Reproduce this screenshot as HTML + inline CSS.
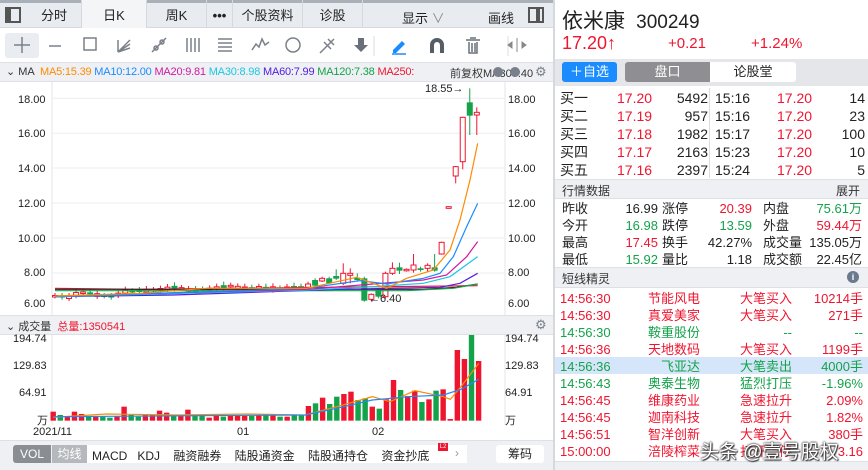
<!DOCTYPE html>
<html><head><meta charset="utf-8">
<style>
*{margin:0;padding:0;box-sizing:border-box}
body{width:868px;height:470px;overflow:hidden;background:#fff;font-family:"Liberation Sans","Noto Sans CJK SC",sans-serif;position:relative;color:#222}
.a{position:absolute;white-space:nowrap}
.r{color:#f0152f}.g{color:#14a24a}
.tab{position:absolute;top:0;height:28px;line-height:32px;font-size:13px;text-align:center;border-right:1px solid #d5d8dd}
</style></head><body>
<div class="a" style="left:0;top:0;width:555px;height:28px;background:#e8ebef;border-bottom:1px solid #d5d8dd"></div>
<div class="a" style="left:0;top:0;width:555px;height:3px;background:#aab0b8"></div>
<div class="a" style="left:5px;top:7px;width:16px;height:16px;border:2px solid #555"></div><div class="a" style="left:7px;top:9px;width:4px;height:12px;background:#555"></div>
<div class="tab" style="left:27px;width:55px">分时</div>
<div class="tab" style="left:82px;width:65px;background:#f3f5f7">日K</div>
<div class="tab" style="left:147px;width:60px">周K</div>
<div class="tab" style="left:207px;width:26px;font-weight:bold">•••</div>
<div class="tab" style="left:233px;width:70px">个股资料</div>
<div class="tab" style="left:303px;width:60px">诊股</div>
<div class="a" style="left:402px;top:8px;font-size:13px">显示 <span style="color:#888">∨</span></div>
<div class="a" style="left:488px;top:8px;font-size:13px">画线</div>
<div class="a" style="left:528px;top:7px;width:16px;height:16px;border:2px solid #555"></div><div class="a" style="left:536px;top:9px;width:4px;height:12px;background:#555"></div>
<div class="a" style="left:5px;top:33px;width:34px;height:25px;background:#e9edf2;border-radius:3px"></div>
<svg class="a" style="left:0;top:28px" width="555" height="34">
<g stroke="#7a808a" stroke-width="1.5" fill="none">
<path d="M22 9v16M14 17h16"/>
<path d="M49 18h12"/><rect x="84" y="10" width="12" height="12"/>
<path d="M118 24l12-12M118 24l12-8M118 24l12-4M118 24v-12"/>
<path d="M152 24l14-14"/><circle cx="156" cy="20" r="2"/><circle cx="162" cy="14" r="2"/>
<path d="M187 10v14M191 10v14M195 10v14M199 10v14"/>
<path d="M218 11h14M218 15h14M218 19h14M218 23h14"/>
<path d="M252 22l4-6 3 3 3-8 3 6 4-3"/>
<circle cx="293" cy="17" r="7"/>
<path d="M320 25l14-14M324 14l7 7M328 11l6 6"/>
</g>
<path d="M358 10h6v7h4l-7 7-7-7h4z" fill="#6a707a"/>
<path d="M374 8v20M508 8v20" stroke="#ddd"/>
<path d="M393 22l9-9 3 3-9 9h-3z" fill="#1a8cff"/><path d="M392 26h14" stroke="#1a8cff" stroke-width="1.5"/>
<path d="M430 25v-8a7 7 0 0 1 14 0v8h-4v-8a3 3 0 0 0-6 0v8z" fill="#555d66"/>
<path d="M466 12h14M469 14v11h8v-11M472 15v9M475 15v9M470 10h6" stroke="#6a707a" stroke-width="1.5" fill="none"/>
<path d="M517 10v14M508 17l4-3v6zM526 17l-4-3v6z" stroke="#888" fill="#888"/>
</svg>
<div class="a" style="left:0;top:62px;width:555px;height:20px;background:#eef0f3;border-top:1px solid #dde0e4;border-bottom:1px solid #dde0e4"></div>
<div class="a" style="left:6px;top:65px;font-size:11px;color:#333">⌄ MA</div>
<div class="a" style="left:40px;top:66px;font-size:11px;letter-spacing:-0.2px"><span style="color:#ff8a00">MA5:15.39</span> <span style="color:#1a8cff">MA10:12.00</span> <span style="color:#d01aa0">MA20:9.81</span> <span style="color:#1ac8e0">MA30:8.98</span> <span style="color:#5020e0">MA60:7.99</span> <span style="color:#14a24a">MA120:7.38</span> <span class="r">MA250:</span></div>
<div class="a" style="left:450px;top:65px;font-size:11px;color:#333">前复权MA300:40</div>
<div class="a" style="left:493px;top:67px;width:10px;height:10px;border-radius:5px;background:#7a808a"></div>
<div class="a" style="left:510px;top:67px;width:10px;height:10px;border-radius:5px;background:#7a808a"></div>
<div class="a" style="left:535px;top:64px;font-size:13px;color:#7a808a">⚙</div>
<svg class="a" id="pc" style="left:0;top:82px" width="555" height="233"></svg>
<div class="a" style="left:18px;top:94px;font-size:11px">18.00</div><div class="a" style="left:508px;top:94px;font-size:11px">18.00</div>
<div class="a" style="left:18px;top:128px;font-size:11px">16.00</div><div class="a" style="left:508px;top:128px;font-size:11px">16.00</div>
<div class="a" style="left:18px;top:163px;font-size:11px">14.00</div><div class="a" style="left:508px;top:163px;font-size:11px">14.00</div>
<div class="a" style="left:18px;top:198px;font-size:11px">12.00</div><div class="a" style="left:508px;top:198px;font-size:11px">12.00</div>
<div class="a" style="left:18px;top:233px;font-size:11px">10.00</div><div class="a" style="left:508px;top:233px;font-size:11px">10.00</div>
<div class="a" style="left:24px;top:267px;font-size:11px">8.00</div><div class="a" style="left:508px;top:267px;font-size:11px">8.00</div>
<div class="a" style="left:24px;top:298px;font-size:11px">6.00</div><div class="a" style="left:508px;top:298px;font-size:11px">6.00</div>
<div class="a" style="left:425px;top:83px;font-size:11px">18.55→</div>
<div class="a" style="left:369px;top:293px;font-size:11px">←6.40</div>
<div class="a" style="left:0;top:315px;width:555px;height:20px;background:#eef0f3;border-top:1px solid #dde0e4;border-bottom:1px solid #dde0e4"></div>
<div class="a" style="left:6px;top:318px;font-size:11px;color:#333">⌄ 成交量 &nbsp;<span class="r">总量:1350541</span></div>
<div class="a" style="left:535px;top:317px;font-size:13px;color:#7a808a">⚙</div>
<svg class="a" id="vc" style="left:0;top:335px" width="555" height="90"></svg>
<div class="a" style="left:13px;top:333px;font-size:11px">194.74</div><div class="a" style="left:505px;top:333px;font-size:11px">194.74</div>
<div class="a" style="left:13px;top:360px;font-size:11px">129.83</div><div class="a" style="left:505px;top:360px;font-size:11px">129.83</div>
<div class="a" style="left:19px;top:387px;font-size:11px">64.91</div><div class="a" style="left:505px;top:387px;font-size:11px">64.91</div>
<div class="a" style="left:37px;top:412px;font-size:11px">万</div><div class="a" style="left:505px;top:412px;font-size:11px">万</div>
<div class="a" style="left:33px;top:426px;font-size:11px">2021/11</div>
<div class="a" style="left:237px;top:426px;font-size:11px">01</div>
<div class="a" style="left:372px;top:426px;font-size:11px">02</div>
<div class="a" style="left:0;top:440px;width:555px;height:30px;background:#eef0f3;border-top:1px solid #dde0e4"></div>
<div class="a" style="left:13px;top:445px;width:38px;height:18px;background:#8a8d92;color:#fff;font-size:12px;text-align:center;line-height:18px;border-radius:3px 0 0 3px">VOL</div>
<div class="a" style="left:52px;top:445px;width:35px;height:18px;background:#b5b8bc;color:#fff;font-size:12px;text-align:center;line-height:18px">均线</div>
<div class="a" style="left:87px;top:445px;width:380px;height:18px;background:#fff"></div>
<div class="a" style="left:92px;top:447px;font-size:12px">MACD &nbsp; KDJ &nbsp;&nbsp; 融资融券 &nbsp;&nbsp; 陆股通资金 &nbsp;&nbsp; 陆股通持仓 &nbsp;&nbsp; 资金抄底</div>
<div class="a" style="left:438px;top:443px;width:10px;height:8px;background:#f0152f;color:#fff;font-size:6px;line-height:8px;text-align:center">L2</div>
<div class="a" style="left:455px;top:446px;font-size:12px;color:#999">›</div>
<div class="a" style="left:496px;top:445px;width:48px;height:18px;background:#fff;font-size:12px;text-align:center;line-height:18px;border-radius:3px">筹码</div>
<div class="a" style="left:553px;top:0;width:2px;height:470px;background:#d5d8dd"></div>
<div class="a" style="left:562px;top:5px;font-size:21px;color:#222">依米康 <span style="font-size:19px">&nbsp;300249</span></div>
<div class="a r" style="left:562px;top:33px;font-size:18px">17.20↑</div>
<div class="a r" style="left:668px;top:35px;font-size:15px">+0.21</div>
<div class="a r" style="left:751px;top:35px;font-size:15px">+1.24%</div>
<div class="a" style="left:555px;top:59px;width:313px;height:27px;background:#e4e6ea"></div>
<div class="a" style="left:562px;top:62px;width:55px;height:20px;background:#1a8cff;color:#fff;font-size:13px;text-align:center;line-height:20px;border-radius:3px">＋自选</div>
<div class="a" style="left:625px;top:62px;width:85px;height:20px;background:#8e8e93;color:#fff;font-size:13px;text-align:center;line-height:20px;border-radius:3px 0 0 3px">盘口</div>
<div class="a" style="left:710px;top:62px;width:86px;height:20px;background:#fff;font-size:13px;text-align:center;line-height:20px;border-radius:0 3px 3px 0">论股堂</div>
<div class="a" style="left:709px;top:88px;width:1px;height:90px;background:#ddd"></div>
<div class="a" style="left:560px;top:89px;font-size:14px;line-height:18px">买一<br>买二<br>买三<br>买四<br>买五</div>
<div class="a r" style="left:617px;top:89px;font-size:14px;line-height:18px">17.20<br>17.19<br>17.18<br>17.17<br>17.16</div>
<div class="a" style="left:656px;top:89px;width:52px;font-size:14px;line-height:18px;text-align:right">5492<br>957<br>1982<br>2163<br>2397</div>
<div class="a" style="left:715px;top:89px;font-size:14px;line-height:18px">15:16<br>15:16<br>15:17<br>15:23<br>15:24</div>
<div class="a r" style="left:777px;top:89px;font-size:14px;line-height:18px">17.20<br>17.20<br>17.20<br>17.20<br>17.20</div>
<div class="a" style="left:820px;top:89px;width:45px;font-size:14px;line-height:18px;text-align:right">14<br>23<br>100<br>10<br>5</div>
<div class="a" style="left:555px;top:179px;width:313px;height:20px;background:#eef0f3;border-top:1px solid #dde0e4;border-bottom:1px solid #dde0e4"></div>
<div class="a" style="left:562px;top:182px;font-size:12px;color:#333">行情数据</div>
<div class="a" style="left:836px;top:182px;font-size:12px;color:#333">展开</div>
<div class="a" style="left:562px;top:200px;font-size:13px;line-height:17px">昨收<br>今开<br>最高<br>最低</div>
<div class="a" style="left:598px;top:200px;width:60px;font-size:13px;line-height:17px;text-align:right">16.99<br><span class="g">16.98</span><br><span class="r">17.45</span><br><span class="g">15.92</span></div>
<div class="a" style="left:662px;top:200px;font-size:13px;line-height:17px">涨停<br>跌停<br>换手<br>量比</div>
<div class="a" style="left:688px;top:200px;width:64px;font-size:13px;line-height:17px;text-align:right"><span class="r">20.39</span><br><span class="g">13.59</span><br>42.27%<br>1.18</div>
<div class="a" style="left:763px;top:200px;font-size:13px;line-height:17px">内盘<br>外盘<br>成交量<br>成交额</div>
<div class="a" style="left:796px;top:200px;width:66px;font-size:13px;line-height:17px;text-align:right"><span class="g">75.61万</span><br><span class="r">59.44万</span><br>135.05万<br>22.45亿</div>
<div class="a" style="left:555px;top:267px;width:313px;height:21px;background:#eef0f3;border-top:1px solid #dde0e4;border-bottom:1px solid #dde0e4"></div>
<div class="a" style="left:562px;top:270px;font-size:12px;color:#333">短线精灵</div>
<div class="a" style="left:847px;top:271px;width:12px;height:12px;border-radius:6px;background:#6a7890;color:#fff;font-size:9px;text-align:center;line-height:12px;font-weight:bold">i</div>
<div class="a" style="left:555px;top:357px;width:313px;height:17px;background:#d6e6fa"></div>
<div class="a" style="left:560px;top:290px;font-size:13px;line-height:17px"><span class="r">14:56:30</span><br><span class="r">14:56:30</span><br><span class="g">14:56:30</span><br><span class="r">14:56:36</span><br><span class="g">14:56:36</span><br><span class="g">14:56:43</span><br><span class="r">14:56:45</span><br><span class="r">14:56:45</span><br><span class="r">14:56:51</span><br><span class="r">15:00:00</span></div>
<div class="a" style="left:640px;top:290px;width:60px;font-size:13px;line-height:17px;text-align:right"><span class="r">节能风电</span><br><span class="r">真爱美家</span><br><span class="g">鞍重股份</span><br><span class="r">天地数码</span><br><span class="g">飞亚达</span><br><span class="g">奥泰生物</span><br><span class="r">维康药业</span><br><span class="r">迦南科技</span><br><span class="r">智洋创新</span><br><span class="r">涪陵榨菜</span></div>
<div class="a" style="left:732px;top:290px;width:60px;font-size:13px;line-height:17px;text-align:right"><span class="r">大笔买入</span><br><span class="r">大笔买入</span><br><span class="g">--</span><br><span class="r">大笔买入</span><br><span class="g">大笔卖出</span><br><span class="g">猛烈打压</span><br><span class="r">急速拉升</span><br><span class="r">急速拉升</span><br><span class="r">大笔买入</span><br><span class="r">打开涨停</span></div>
<div class="a" style="left:800px;top:290px;width:63px;font-size:13px;line-height:17px;text-align:right"><span class="r">10214手</span><br><span class="r">271手</span><br><span class="g">--</span><br><span class="r">1199手</span><br><span class="g">4000手</span><br><span class="g">-1.96%</span><br><span class="r">2.09%</span><br><span class="r">1.82%</span><br><span class="r">380手</span><br><span class="r">3.16</span></div>
<div class="a" style="left:555px;top:461px;width:313px;height:9px;background:#eef0f3;border-top:1px solid #dde0e4"></div>
<div class="a" style="left:700px;top:437px;font-size:19px;color:#fff;text-shadow:0 0 2px #333,0 0 2px #333,1px 1px 1px #333">头条 @壹号股权</div>
<script>
(function(){
var NS="http://www.w3.org/2000/svg";
function el(p,t,a){var e=document.createElementNS(NS,t);for(var k in a)e.setAttribute(k,a[k]);p.appendChild(e);return e;}
var pc=document.getElementById('pc'),vc=document.getElementById('vc');
el(pc,'line',{x1:52,y1:0,x2:52,y2:233,stroke:'#e3e6ea'});
el(pc,'line',{x1:505,y1:0,x2:505,y2:233,stroke:'#e3e6ea'});
[16.3,51.3,86,121,156,191].forEach(function(y){el(pc,'line',{x1:52,y1:y,x2:505,y2:y,stroke:'#eceef1'});});
el(vc,'line',{x1:52,y1:0,x2:52,y2:90,stroke:'#e3e6ea'});
el(vc,'line',{x1:505,y1:0,x2:505,y2:90,stroke:'#e3e6ea'});
function Y(zy){return zy/3-2;}
function X(i){return 55+7.03*i;}
var c=[];
var base=[648,650,652,642,638,640,645,648,650,643,635,635,633,632,630,628,625,622,625,630,632,628,627,624,620,618,622,625,623,622,624,625,626,624,622,620];
for(var i=0;i<36;i++){var b=base[i],d=(i*37%7)+3;c.push([b+d/2,b-d/2,b-d-6,b+d+4]);}
var tail=[[622,612,605,628],[617,600,595,620],[603,595,590,606],[595,610,590,612],[596,588,568,600],[610,580,550,615],[586,580,565,610],[593,600,580,605],[595,662,590,665],[658,643,640,665],[630,650,625,655],[650,580,575,655],[580,565,547,585],[562,572,548,582],[572,568,565,575],[570,555,522,578],[565,570,560,575],[565,556,550,575],[562,572,522,575],[522,487,485,524],[385,380,380,386],[288,260,258,310],[245,112,110,268],[67,107,25,165],[105,97,82,165]];
c=c.concat(tail);
var vcol=[1,0,1,1,1,0,1,0,0,1,1,0,0,1,1,1,1,0,1,1,0,0,1,1,0,1,1,1,0,1,0,1,0,1,0,0,1,0,1,0,0,1,1,0,0,1,0,1,1,0,1,1,0,1,0,1,1,1,1,0,1];
var vt=[335,345,350,335,342,350,350,350,353,348,320,345,350,345,345,332,338,345,347,329,345,345,353,345,350,348,348,348,348,345,342,342,350,350,345,345,318,310,293,312,290,282,275,300,295,320,326,298,240,270,288,272,306,298,272,268,357,150,177,103,183];
for(var i=0;i<61;i++){
 var o=c[i][0],cl=c[i][1],h=c[i][2],l=c[i][3],red=vcol[i]==1,col=red?'#f0152f':'#14a24a',x=X(i);
 el(pc,'line',{x1:x,y1:Y(h),x2:x,y2:Y(l),stroke:col});
 var t=Math.min(o,cl),bh=Math.max(Math.abs(o-cl)/3,1.5);
 if(red)el(pc,'rect',{x:x-2.5,y:Y(t),width:5,height:bh,fill:'#fff',stroke:col,'stroke-width':1});
 else el(pc,'rect',{x:x-3,y:Y(t),width:6,height:bh,fill:col});
 var bx=53.2+7.09*i,tp=vt[i]/3-35,bt=362/3-35;
 el(vc,'rect',{x:bx-2.7,y:tp,width:5.4,height:bt-tp,fill:col});
}
function line(p,pts,col,sx,sy){var s=pts.map(function(q){return (sx(q[0]))+','+(sy(q[1]));}).join(' ');el(p,'polyline',{points:s,fill:'none',stroke:col,'stroke-width':1.2});}
var zx=function(v){return 40+v/3;};
line(pc,[[45,625],[300,628],[1313,617]],'#f0152f',zx,Y);
line(pc,[[45,628],[1150,628],[1250,622],[1313,612]],'#222',zx,Y);
line(pc,[[45,632],[1100,632],[1240,625],[1313,612]],'#14a24a',zx,Y);
line(pc,[[45,650],[400,645],[900,628],[1200,622],[1260,610],[1313,580]],'#5020e0',zx,Y);
line(pc,[[45,650],[800,630],[1000,620],[1150,610],[1230,590],[1313,530]],'#1ac8e0',zx,Y);
line(pc,[[45,648],[800,628],[1000,612],[1150,600],[1220,585],[1280,530],[1313,485]],'#d01aa0',zx,Y);
line(pc,[[45,650],[800,625],[960,602],[1040,612],[1150,595],[1200,580],[1240,530],[1280,440],[1313,370]],'#1a8cff',zx,Y);
line(pc,[[45,648],[300,640],[500,625],[800,625],[950,592],[1040,625],[1100,595],[1180,570],[1230,510],[1260,420],[1290,300],[1313,190]],'#ff8a00',zx,Y);
var vxf=function(v){return v/2.82;},vyf=function(v){return v/3-35;};
line(vc,[[150,352],[300,342],[500,345],[700,342],[860,345],[950,320],[1050,290],[1100,305],[1170,272],[1250,290],[1270,298],[1300,260],[1350,190]],'#ff8a00',vxf,vyf);
line(vc,[[150,350],[860,345],[950,325],[1050,300],[1150,290],[1250,285],[1300,268],[1350,238]],'#1a8cff',vxf,vyf);
})();
</script>
</body></html>
